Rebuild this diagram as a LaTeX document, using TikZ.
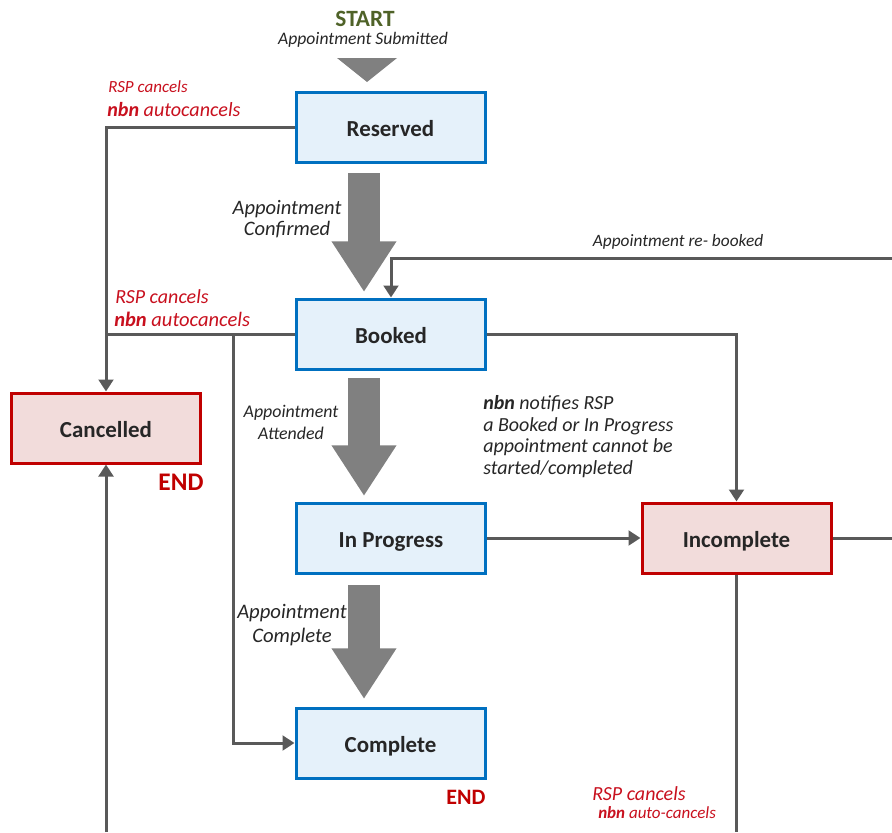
\documentclass[tikz,border=0pt]{standalone}
\usepackage{fontspec}
\setmainfont{Carlito}
\usetikzlibrary{arrows.meta}

\definecolor{linegray}{RGB}{89,89,89}
\definecolor{biggray}{RGB}{128,128,128}
\definecolor{boxblue}{RGB}{0,112,192}
\definecolor{fillblue}{RGB}{229,241,250}
\definecolor{boxred}{RGB}{192,0,0}
\definecolor{fillred}{RGB}{242,220,219}
\definecolor{labelred}{RGB}{200,16,30}
\definecolor{startgreen}{RGB}{79,98,40}
\definecolor{ink}{RGB}{38,38,38}

\tikzset{
  statebox/.style={draw=boxblue, fill=fillblue, line width=2.25pt,
    minimum width=141.75pt, minimum height=52.5pt, inner sep=0pt,
    text height=14pt, text depth=0pt,
    text=ink, font=\fontsize{17.2}{20}\selectfont\bfseries},
  endbox/.style={statebox, draw=boxred, fill=fillred},
  conn/.style={draw=linegray, line width=2.25pt,
    -{Triangle[length=9pt,width=11pt]}},
  plainline/.style={draw=linegray, line width=2.25pt},
  bigarrow/.style={draw=biggray, line width=24pt,
    -{Triangle[length=38pt,width=46pt]}},
  note/.style={inner sep=0pt, text=ink, font=\itshape},
  rednote/.style={inner sep=0pt, text=labelred, font=\itshape},
  endlabel/.style={inner sep=0pt, text=boxred, font=\bfseries}
}

\begin{document}
\begin{tikzpicture}[x=0.75pt,y=-0.75pt]
\useasboundingbox (0,0) rectangle (892,832);

% states
\node[statebox] (res)  at (390.5,127) {Reserved};
\node[statebox] (book) at (391,334)   {Booked};
\node[statebox] (prog) at (391,538)   {In Progress};
\node[statebox] (comp) at (390.5,743) {Complete};
\node[endbox]   (can)  at (106,428)   {Cancelled};
\node[endbox]   (inc)  at (736.5,538) {Incomplete};

% start marker
\node[inner sep=0pt, text=startgreen, font=\fontsize{17.5}{20}\selectfont\bfseries]
  (start) at (365,19) {START};
\node[note, font=\fontsize{13.2}{15}\selectfont\itshape] (sub) at (363,40)
  {Appointment Submitted};
\fill[biggray] (337,58) -- (397,58) -- (367,82) -- cycle;

% main flow (wide arrows)
\coordinate (a1s) at (364,173); \coordinate (a1e) at (364,292);
\coordinate (a2s) at (364,378); \coordinate (a2e) at (364,496);
\coordinate (a3s) at (364,585); \coordinate (a3e) at (364,699);
\draw[bigarrow] (a1s) -- (a1e);
\draw[bigarrow] (a2s) -- (a2e);
\draw[bigarrow] (a3s) -- (a3e);

\node[note, align=center, font=\fontsize{15.4}{15.75}\selectfont\itshape]
  (lconf) at (287,219.5) {Appointment\\Confirmed};
\node[note, align=center, font=\fontsize{13.4}{16.5}\selectfont\itshape]
  (latt) at (291,422) {Appointment\\Attended};
\node[note, align=center, font=\fontsize{15.5}{18}\selectfont\itshape]
  (lcomp) at (292,625) {Appointment\\Complete};

% cancellation paths
\draw[conn] (res.west) -| (can.north);
\draw[plainline] (book.west) -- (book.west -| can.north);
\coordinate (br) at ([shift={(-62,0)}]book.west);
\draw[conn] (br) |- (comp.west);
\coordinate (canfeed) at (106,832);
\draw[conn] (canfeed) -- (can.south);

\node[rednote, anchor=mid west, font=\fontsize{12.75}{14}\selectfont\itshape]
  (r1) at (108,89) {RSP cancels};
\node[rednote, anchor=mid west, font=\fontsize{15.1}{17}\selectfont\itshape]
  (n1) at (107,113) {\textbf{nbn} autocancels};
\node[rednote, anchor=mid west, font=\fontsize{15}{17}\selectfont\itshape]
  (r2) at (115,300) {RSP cancels};
\node[rednote, anchor=mid west, font=\fontsize{15.4}{17}\selectfont\itshape]
  (n2) at (114,323) {\textbf{nbn} autocancels};

\node[endlabel, font=\fontsize{19}{22}\selectfont\bfseries] (end1) at (181,482) {END};
\node[endlabel, font=\fontsize{16.5}{19}\selectfont\bfseries] (end2) at (466,797) {END};

% incomplete paths
\draw[conn] (book.east) -| (inc.north);
\draw[conn] (prog.east) -- (inc.west);
\coordinate (incR) at (892,538);
\draw[plainline] (inc.east) -- (incR);
\coordinate (incB) at (736.5,832);
\draw[plainline] (inc.south) -- (incB);
\coordinate (rb) at (892,258);
\draw[conn] (rb) -| (book.north);

\node[note, font=\fontsize{13}{15}\selectfont\itshape] (lrb) at (678,242)
  {Appointment re- booked};
\node[note, anchor=west, align=left, font=\fontsize{15}{16.3}\selectfont\itshape]
  (lnot) at (483,436.5)
  {\textbf{nbn} notifies RSP\\a Booked or In Progress\\appointment cannot be\\started/completed};

\node[rednote, anchor=mid west, font=\fontsize{15}{17}\selectfont\itshape]
  (r3) at (592,797) {RSP cancels};
\node[rednote, anchor=mid west, font=\fontsize{12.75}{14}\selectfont\itshape]
  (n3) at (598,815) {\textbf{nbn} auto-cancels};
\end{tikzpicture}
\end{document}
